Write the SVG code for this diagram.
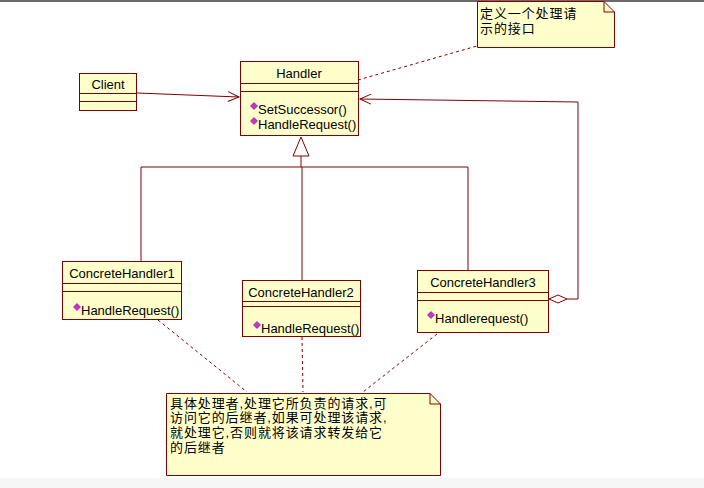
<svg xmlns="http://www.w3.org/2000/svg" width="704" height="488" viewBox="0 0 704 488">
<style>
.box{fill:#FFFFCC;stroke:#800000;stroke-width:1}
.ln{stroke:#800000;stroke-width:1;fill:none}
.dash{stroke:#800000;stroke-width:1;fill:none;stroke-dasharray:3,3}
.t{font-family:"Liberation Sans",Arial,sans-serif;font-size:13px;fill:#000}
.c{text-anchor:middle}
.cn{font-family:"Liberation Sans","Noto Sans CJK SC",sans-serif;font-size:13px;letter-spacing:0.9px;fill:#000}
.ic{fill:#CC33CC;stroke:#800080;stroke-width:0.6}
</style>
<defs>
<marker id="open" markerWidth="14" markerHeight="12" refX="12" refY="6" orient="auto" markerUnits="userSpaceOnUse">
<path d="M1,1 L12,6 L1,11" fill="none" stroke="#800000" stroke-width="1"/>
</marker>
<path id="icon" d="M0,-3.5 L3.5,0 L0,3.5 L-3.5,0 Z"/>
</defs>
<rect x="0" y="0" width="704" height="488" fill="#FFFFFF"/>
<rect x="0" y="0" width="704" height="2" fill="#6A6A6A"/>
<rect x="0" y="478" width="704" height="10" fill="#F6F6F6"/>

<g id="connectors">
<path class="ln" d="M137,93 L239,97" marker-end="url(#open)"/>
<path class="ln" d="M567,299 L578,299 L578,102 L360,99" marker-end="url(#open)"/>
<path class="ln" d="M301,137 L309,156 L293,156 Z" fill="#FFFFFF"/>
<path class="ln" d="M301,156 L301,167 M141,167 L468,167 M141,167 L141,262 M302,167 L302,280 M468,167 L468,270"/>
<path class="ln" d="M549,299 L558,295 L567,299 L558,303 Z" fill="#FFFFFF"/>
<path class="dash" d="M358,80 L477,46"/>
<path class="dash" d="M158,320 L247,392"/>
<path class="dash" d="M302,337 L303,392"/>
<path class="dash" d="M437,334 L363,392"/>
</g>

<g id="note-top">
<path class="box" d="M477.5,1.5 L604,1.5 L614.5,12 L614.5,47.5 L477.5,47.5 Z"/>
<path class="ln" d="M604,1.5 L604,12 L614.5,12"/>
<text class="cn" x="480" y="18">定义一个处理请</text>
<text class="cn" x="480" y="33">示的接口</text>
</g>

<g id="client">
<rect class="box" x="79.5" y="73.5" width="57" height="37"/>
<line class="ln" x1="79.5" y1="93.5" x2="136.5" y2="93.5"/>
<line class="ln" x1="79.5" y1="101.5" x2="136.5" y2="101.5"/>
<text class="t c" x="108" y="89">Client</text>
</g>

<g id="handler">
<rect class="box" x="240.5" y="61.5" width="118" height="74"/>
<line class="ln" x1="240.5" y1="83.5" x2="358.5" y2="83.5"/>
<line class="ln" x1="240.5" y1="91.5" x2="358.5" y2="91.5"/>
<text class="t c" x="299" y="78">Handler</text>
<use href="#icon" class="ic" x="254" y="106"/>
<text class="t" x="258" y="114">SetSuccessor()</text>
<use href="#icon" class="ic" x="254" y="121"/>
<text class="t" x="258" y="129">HandleRequest()</text>
</g>

<g id="concrete1">
<rect class="box" x="62.5" y="261.5" width="119" height="58"/>
<line class="ln" x1="62.5" y1="283.5" x2="181.5" y2="283.5"/>
<line class="ln" x1="62.5" y1="291.5" x2="181.5" y2="291.5"/>
<text class="t c" x="122" y="278">ConcreteHandler1</text>
<use href="#icon" class="ic" x="77" y="307"/>
<text class="t" x="81" y="315">HandleRequest()</text>
</g>

<g id="concrete2">
<rect class="box" x="242.5" y="280.5" width="118" height="56"/>
<line class="ln" x1="242.5" y1="301.5" x2="360.5" y2="301.5"/>
<line class="ln" x1="242.5" y1="306.5" x2="360.5" y2="306.5"/>
<text class="t c" x="301" y="297">ConcreteHandler2</text>
<use href="#icon" class="ic" x="257" y="325"/>
<text class="t" x="261" y="333">HandleRequest()</text>
</g>

<g id="concrete3">
<rect class="box" x="417.5" y="270.5" width="131" height="62"/>
<line class="ln" x1="417.5" y1="292.5" x2="548.5" y2="292.5"/>
<line class="ln" x1="417.5" y1="300.5" x2="548.5" y2="300.5"/>
<text class="t c" x="483" y="287">ConcreteHandler3</text>
<use href="#icon" class="ic" x="431" y="315"/>
<text class="t" x="435" y="323">Handlerequest()</text>
</g>

<g id="note-bottom">
<path class="box" d="M166.5,393.5 L430,393.5 L440.5,404 L440.5,475.5 L166.5,475.5 Z"/>
<path class="ln" d="M430,393.5 L430,404 L440.5,404"/>
<text class="cn" x="170" y="408">具体处理者,处理它所负责的请求,可</text>
<text class="cn" x="170" y="422">访问它的后继者,如果可处理该请求,</text>
<text class="cn" x="170" y="437">就处理它,否则就将该请求转发给它</text>
<text class="cn" x="170" y="452">的后继者</text>
</g>
</svg>
